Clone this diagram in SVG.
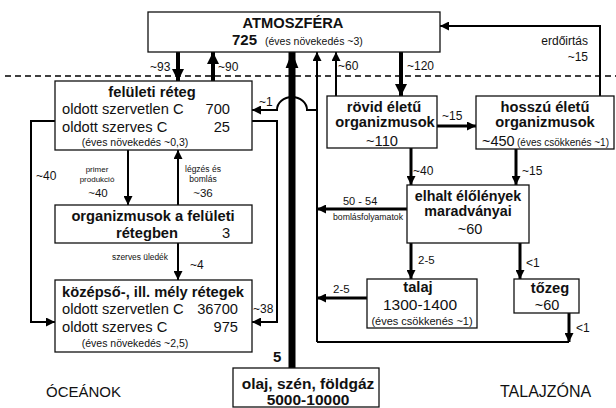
<svg xmlns="http://www.w3.org/2000/svg" width="616" height="408" viewBox="0 0 616 408">
<style>
text{font-family:"Liberation Sans",Arial,sans-serif;fill:#111}
.b{font-weight:bold;font-size:14.7px}
.r{font-size:14.7px}
.p{font-size:10.5px}
.l{font-size:12px}
.c{text-anchor:middle}
.e{text-anchor:end}
.box{fill:#fff;stroke:#111;stroke-width:1.3}
.ln{fill:none;stroke:#000;stroke-width:2}
.m{fill:none;stroke:#000;stroke-width:3}
.t{fill:none;stroke:#000;stroke-width:4}
</style>
<defs>
<marker id="a" markerUnits="userSpaceOnUse" markerWidth="9" markerHeight="9" viewBox="0 0 10 10" refX="10" refY="5" orient="auto"><path d="M0,0L10,5L0,10z" fill="#000"/></marker>
<marker id="bg" markerUnits="userSpaceOnUse" markerWidth="12" markerHeight="12" viewBox="0 0 10 10" refX="10" refY="5" orient="auto"><path d="M0,0L10,5L0,10z" fill="#000"/></marker>
<marker id="h" markerUnits="userSpaceOnUse" markerWidth="16" markerHeight="16" viewBox="0 0 10 10" refX="10" refY="5" orient="auto"><path d="M0,1L10,5L0,9z" fill="#000"/></marker>
</defs>
<line x1="5" y1="76" x2="616" y2="76" stroke="#000" stroke-width="1.5" stroke-dasharray="6,4"/>
<g id="connectors">
<path class="t" d="M178,52V81" marker-end="url(#bg)"/>
<path class="t" d="M213,81V52" marker-end="url(#bg)"/>
<path class="t" d="M401,52V96" marker-end="url(#bg)"/>
<path d="M292,368V52" fill="none" stroke="#000" stroke-width="7" marker-end="url(#h)"/>
<path class="ln" d="M317,342V52" marker-end="url(#a)"/>
<path class="ln" d="M336,96V52" marker-end="url(#a)"/>
<path class="ln" d="M600,96V26H440" marker-end="url(#a)"/>
<path class="ln" d="M317,110H307A15,13 0 0 0 277,110H252" marker-end="url(#a)"/>
<path class="ln" d="M252,121H277V322H252" marker-end="url(#a)"/>
<path class="ln" d="M55,121H31V322H55" marker-end="url(#a)"/>
<path class="ln" d="M128,150V205" marker-end="url(#a)"/>
<path class="ln" d="M178,205V150" marker-end="url(#a)"/>
<path class="ln" d="M178,243V280" marker-end="url(#a)"/>
<path class="m" d="M437,126H476" marker-end="url(#a)"/>
<path class="m" d="M411,148V185" marker-end="url(#a)"/>
<path class="m" d="M516,149V185" marker-end="url(#a)"/>
<path class="m" d="M407,209H317" marker-end="url(#a)"/>
<path class="m" d="M411,243V279" marker-end="url(#a)"/>
<path class="m" d="M520,243V279" marker-end="url(#a)"/>
<path class="m" d="M367,298H317" marker-end="url(#a)"/>
<path class="ln" d="M317,342H569"/>
<path class="m" d="M569,313V342" marker-end="url(#a)"/>
</g>
<g id="labels">
<text class="l" x="150" y="71">~93</text>
<text class="l" x="218" y="71">~90</text>
<text class="l" x="259" y="106">~1</text>
<text class="l" x="338" y="70">~60</text>
<text class="l" x="407" y="70">~120</text>
<text class="l e" x="588" y="45">erdőirtás</text>
<text class="l e" x="588" y="61">~15</text>
<text class="l" x="442" y="120">~15</text>
<text class="l" x="36" y="180">~40</text>
<text class="c" x="97" y="172" style="font-size:8px">primer</text>
<text class="c" x="97" y="182" style="font-size:8px">produkció</text>
<text class="c" x="98" y="197" style="font-size:11.5px">~40</text>
<text class="c" x="203" y="172" style="font-size:8.5px">légzés és</text>
<text class="c" x="203" y="182" style="font-size:8.5px">bomlás</text>
<text class="c" x="203" y="197" style="font-size:11.5px">~36</text>
<text class="c" x="140" y="260" style="font-size:8.4px">szerves üledék</text>
<text class="l" x="190" y="269">~4</text>
<text class="l" x="253" y="313">~38</text>
<text x="273" y="362" style="font-weight:bold;font-size:15px">5</text>
<text class="l" x="413" y="175">~40</text>
<text class="l" x="522" y="175">~15</text>
<text x="343" y="205" style="font-size:11px">50 - 54</text>
<text class="c" x="368" y="220" style="font-size:8.7px">bomlásfolyamatok</text>
<text x="418" y="264" style="font-size:11.5px">2-5</text>
<text class="l" x="526" y="267">&lt;1</text>
<text x="333" y="293" style="font-size:11.5px">2-5</text>
<text class="l" x="576" y="332">&lt;1</text>
<text x="46" y="397" style="font-size:15px">ÓCEÁNOK</text>
<text x="500" y="397" style="font-size:16px">TALAJZÓNA</text>
</g>
<g id="atmoszfera">
<rect class="box" x="148" y="12" width="292" height="40"/>
<text class="b c" x="293" y="28">ATMOSZFÉRA</text>
<text x="232" y="45" style="font-weight:bold;font-size:15px">725</text>
<text class="p" x="265" y="45">(éves növekedés ~3)</text>
</g>
<g id="feluleti">
<rect class="box" x="55" y="81" width="197" height="69"/>
<text class="b c" x="152" y="97">felületi réteg</text>
<text class="r" x="62" y="114">oldott szervetlen C</text>
<text class="r e" x="230" y="114">700</text>
<text class="r" x="62" y="132">oldott szerves C</text>
<text class="r e" x="230" y="132">25</text>
<text class="p c" x="135" y="146">(éves növekedés ~0,3)</text>
</g>
<g id="organizmusok">
<rect class="box" x="55" y="205" width="197" height="38"/>
<text class="b c" x="153" y="221">organizmusok a felületi</text>
<text class="b c" x="147" y="238">rétegben</text>
<text class="r" x="222" y="238">3</text>
</g>
<g id="kozepso">
<rect class="box" x="55" y="280" width="197" height="72"/>
<text class="b" x="62" y="297">középső-, ill. mély rétegek</text>
<text class="r" x="62" y="314">oldott szervetlen C</text>
<text class="r e" x="238" y="314">36700</text>
<text class="r" x="62" y="332">oldott szerves C</text>
<text class="r e" x="238" y="332">975</text>
<text class="p c" x="135" y="347">(éves növekedés ~2,5)</text>
</g>
<g id="olaj">
<rect class="box" x="233" y="368" width="146" height="39"/>
<text class="c" x="308" y="389" style="font-weight:bold;font-size:15.5px">olaj, szén, földgáz</text>
<text class="c" x="308" y="405" style="font-weight:bold;font-size:15.5px">5000-10000</text>
</g>
<g id="rovid">
<rect class="box" x="327" y="96" width="110" height="52"/>
<text class="b c" x="384" y="112">rövid életű</text>
<text class="b c" x="385" y="127">organizmusok</text>
<text class="r c" x="382" y="146">~110</text>
</g>
<g id="hosszu">
<rect class="box" x="476" y="96" width="138" height="53"/>
<text class="b c" x="545" y="112">hosszú életű</text>
<text class="b c" x="545" y="127">organizmusok</text>
<text x="482" y="146" style="font-size:14.5px">~450</text>
<text x="517" y="146" style="font-size:10px">(éves csökkenés ~1)</text>
</g>
<g id="elhalt">
<rect class="box" x="407" y="185" width="122" height="58"/>
<text class="c" x="468" y="201" style="font-weight:bold;font-size:14.3px">elhalt élőlények</text>
<text class="c" x="468" y="216" style="font-weight:bold;font-size:14.3px">maradványai</text>
<text class="c" x="470" y="234" style="font-size:14.5px">~60</text>
</g>
<g id="talaj">
<rect class="box" x="367" y="279" width="110" height="49"/>
<text class="b c" x="418" y="292">talaj</text>
<text class="c" x="420" y="310" style="font-size:15.5px">1300-1400</text>
<text class="c" x="422" y="325" style="font-size:11px">(éves csökkenés ~1)</text>
</g>
<g id="tozeg">
<rect class="box" x="514" y="279" width="65" height="34"/>
<text class="b c" x="550" y="293">tőzeg</text>
<text class="c" x="547" y="310" style="font-size:14.5px">~60</text>
</g>
</svg>
